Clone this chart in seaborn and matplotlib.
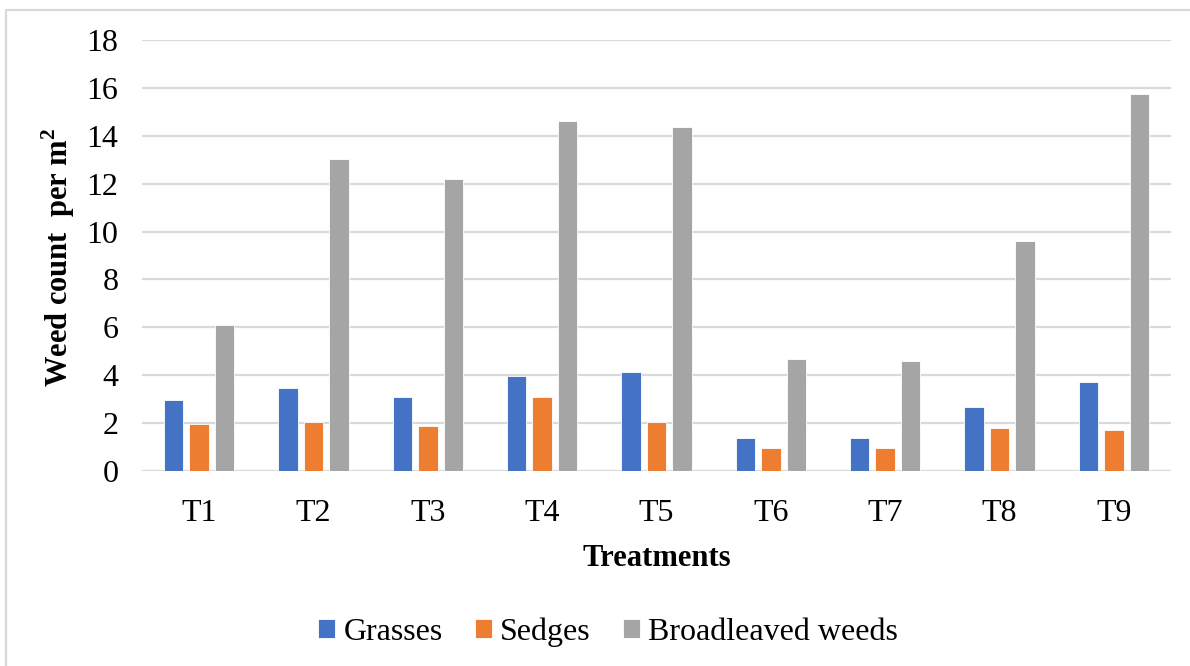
import matplotlib
matplotlib.use("Agg")
import matplotlib.pyplot as plt
from matplotlib.lines import Line2D
import seaborn as sns
import pandas as pd

# Weed counts per treatment
treatments = ["T1", "T2", "T3", "T4", "T5", "T6", "T7", "T8", "T9"]
grasses = [2.96, 3.45, 3.11, 3.95, 4.13, 1.38, 1.38, 2.68, 3.70]
sedges = [1.95, 2.03, 1.86, 3.11, 2.03, 0.96, 0.96, 1.78, 1.71]
broadleaved = [6.11, 13.04, 12.20, 14.63, 14.38, 4.69, 4.61, 9.60, 15.76]
groups = ["Grasses", "Sedges", "Broadleaved weeds"]
colors = ["#4472C4", "#ED7D31", "#A5A5A5"]

df = pd.DataFrame({
    "Treatment": treatments * 3,
    "Group": [groups[0]] * 9 + [groups[1]] * 9 + [groups[2]] * 9,
    "Count": grasses + sedges + broadleaved,
})

sns.set_theme(style="white")
plt.rcParams["font.family"] = ["Liberation Serif", "DejaVu Serif"]
plt.rcParams["mathtext.fontset"] = "custom"
plt.rcParams["mathtext.rm"] = "Liberation Serif:bold"
plt.rcParams["mathtext.bf"] = "Liberation Serif:bold"
plt.rcParams["text.color"] = "black"
plt.rcParams["axes.labelcolor"] = "black"

W, H = 1190, 666
fig = plt.figure(figsize=(W / 100, H / 100), dpi=100)
ax = fig.add_axes([142 / W, 1 - 471 / H, (1171 - 142) / W, (471 - 40) / H])

sns.barplot(data=df, x="Treatment", y="Count", hue="Group", order=treatments,
            hue_order=groups, palette=colors, width=0.67, gap=0.24,
            edgecolor="white", linewidth=0.6, saturation=1, ax=ax)

ax.set_ylim(0, 18)
ax.set_yticks(range(0, 19, 2))
ax.yaxis.grid(True, color="#d9d9d9", linewidth=1.6)
ax.set_axisbelow(True)
for s in ax.spines.values():
    s.set_visible(False)
ax.tick_params(axis="both", length=0, labelsize=23, colors="black")
ax.tick_params(axis="y", pad=17)
ax.tick_params(axis="x", pad=20)
ax.set_xlabel("Treatments", fontsize=22, fontweight="bold", labelpad=12, color="black")
ax.set_ylabel("")

fig.text(58 / W, 1 - 257 / H, "Weed count  per m$^2$", rotation=90,
         ha="center", va="center", fontsize=22, fontweight="bold", color="black")

handles, labels = ax.get_legend_handles_labels()
ax.get_legend().remove()
fig.legend(handles, labels, loc="center", bbox_to_anchor=(608 / W, 1 - 632 / H),
           ncol=3, frameon=False, fontsize=23, handlelength=0.55,
           handleheight=0.55, handletextpad=0.25, columnspacing=1.0,
           labelcolor="black")

# light frame along the top and left edges
fig.add_artist(Line2D([6 / W, 1], [1 - 10 / H, 1 - 10 / H], transform=fig.transFigure,
                      color="#d9d9d9", linewidth=1.6))
fig.add_artist(Line2D([6 / W, 6 / W], [0, 1 - 10 / H], transform=fig.transFigure,
                      color="#d9d9d9", linewidth=1.6))

fig.savefig("out.png", dpi=100, facecolor="white")
